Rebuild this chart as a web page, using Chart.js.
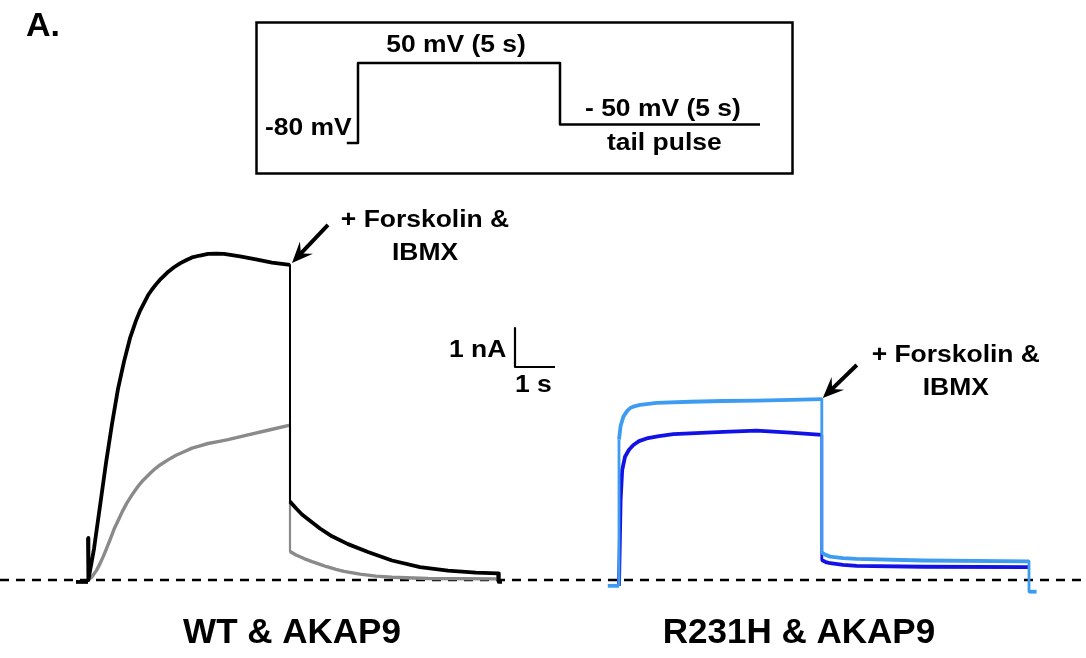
<!DOCTYPE html>
<html>
<head>
<meta charset="utf-8">
<script src="https://cdn.jsdelivr.net/npm/chart.js@4.4.1/dist/chart.umd.min.js"></script>
<style>
  html, body { margin: 0; padding: 0; background: #fff; }
  canvas { display: block; }
</style>
</head>
<body>
<canvas id="c" width="1086" height="658"></canvas>
<script>
// ---------------- DATA (time in s relative to pulse onset, current in nA) ----------------
// WT & AKAP9, + Forskolin & IBMX (black)
const timeWTForsk = [-0.3, -0.02, 0, 0, 0.01, 0.15, 0.3, 0.45, 0.6, 0.75, 0.9, 1.05, 1.2, 1.3, 1.4, 1.5, 1.6, 1.7, 1.8, 1.9, 2.0, 2.15, 2.3, 2.45, 2.6, 2.8, 3.0, 3.2, 3.4, 3.8, 4.2, 4.6, 5.05, 5.05, 5.2, 5.35, 5.55, 5.8, 6.1, 6.5, 7.0, 7.6, 8.3, 9.0, 9.7, 10.25, 10.27, 10.35];
const currWTForsk = [-0.05, -0.05, -0.05, 1.08, 0.0, 0.8, 1.9, 3.0, 4.0, 4.9, 5.6, 6.2, 6.65, 6.9, 7.1, 7.3, 7.45, 7.58, 7.7, 7.8, 7.9, 8.02, 8.12, 8.2, 8.27, 8.32, 8.36, 8.37, 8.36, 8.3, 8.22, 8.14, 8.08, 2.01, 1.84, 1.68, 1.52, 1.32, 1.12, 0.92, 0.72, 0.5, 0.33, 0.24, 0.19, 0.17, -0.05, -0.05];
// WT & AKAP9, control (grey)
const timeWTCtrl = [0, 0.1, 0.22, 0.3, 0.38, 0.46, 0.55, 0.65, 0.76, 0.86, 0.97, 1.08, 1.18, 1.28, 1.38, 1.5, 1.6, 1.7, 1.8, 2.0, 2.2, 2.4, 2.6, 2.8, 3.0, 3.25, 3.5, 4.0, 4.5, 5.05, 5.05, 5.2, 5.4, 5.6, 5.8, 5.97, 6.2, 6.4, 6.8, 7.2, 7.6, 8.5, 10.25];
const currWTCtrl = [0, 0.08, 0.26, 0.42, 0.6, 0.8, 1.03, 1.3, 1.54, 1.76, 1.97, 2.15, 2.3, 2.44, 2.56, 2.68, 2.78, 2.87, 2.95, 3.08, 3.2, 3.29, 3.38, 3.44, 3.5, 3.55, 3.6, 3.72, 3.84, 3.97, 0.73, 0.64, 0.55, 0.47, 0.4, 0.34, 0.27, 0.22, 0.15, 0.1, 0.07, 0.04, 0.03];
// R231H & AKAP9, + Forskolin & IBMX (light blue)
const timeRForsk = [-0.28, 0, 0, 0.04, 0.11, 0.2, 0.28, 0.4, 0.53, 0.94, 1.78, 2.6, 3.44, 4.3, 5.07, 5.07, 5.15, 5.28, 5.6, 5.94, 7.6, 10.25, 10.25, 10.44];
const currRForsk = [-0.15, -0.15, 3.6, 3.95, 4.19, 4.33, 4.41, 4.46, 4.49, 4.54, 4.57, 4.59, 4.6, 4.62, 4.64, 0.70, 0.65, 0.6, 0.56, 0.54, 0.5, 0.48, -0.3, -0.3];
// R231H & AKAP9, control (dark blue)
const timeRCtrl = [0, 0.04, 0.08, 0.15, 0.25, 0.36, 0.5, 0.69, 1.0, 1.36, 2.61, 3.44, 4.28, 5.07, 5.07, 5.17, 5.28, 5.6, 5.94, 7.6, 10.25];
const currRCtrl = [-0.15, 2.05, 2.82, 3.16, 3.34, 3.46, 3.56, 3.63, 3.69, 3.74, 3.80, 3.83, 3.78, 3.72, 0.51, 0.46, 0.43, 0.39, 0.36, 0.34, 0.33];
// Voltage protocol (s, mV)
const protoTime = [-0.28, 0, 0, 5.05, 5.05, 10.05];
const protoVolt = [-80, -80, 50, 50, -50, -50];
// Scale bar (1 nA, 1 s)
const scaleBarNA = 1;
const scaleBarS = 1;
// Panel onsets on the shared time axis (s)
const onsetWT = 2.2;
const onsetR231H = 15.475;
const onsetProtocol = 8.95;

// ---------------- layout (not data) ----------------
const PX_PER_S = 40, PX_PER_NA = 39, BASE_Y = 580, W = 1086, H = 658;
const xMax = W / PX_PER_S;
const yMax = BASE_Y / PX_PER_NA, yMin = -(H - BASE_Y) / PX_PER_NA;
const mvPerPx = 130 / 80; // -80 mV at y=143, 50 mV at y=63
const mvMax = 50 + 63 * mvPerPx, mvMin = -80 - (H - 143) * mvPerPx;
const sbX = 515 / PX_PER_S, sbY = (BASE_Y - 367) / PX_PER_NA;

const pts = (t, v, off) => t.map((ti, i) => ({ x: ti + off, y: v[i] }));
const segW = (thin, thick) => ({ borderWidth: ctx => (ctx.p0.parsed.x === ctx.p1.parsed.x ? thin : thick) });

const FONT = '"Liberation Sans", Arial, sans-serif';
function txt(ctx, s, x, y, size, align, sx) {
  ctx.save();
  ctx.font = 'bold ' + size + 'px ' + FONT;
  ctx.fillStyle = '#000';
  ctx.textAlign = align || 'left';
  ctx.textBaseline = 'alphabetic';
  ctx.translate(x, y);
  ctx.scale(sx || 1, 1);
  ctx.fillText(s, 0, 0);
  ctx.restore();
}
function arrow(ctx, tx, ty, dx, dy) {
  const len = Math.hypot(dx, dy), ux = dx / len, uy = dy / len, nx = -uy, ny = ux;
  ctx.save();
  ctx.strokeStyle = '#000'; ctx.fillStyle = '#000';
  ctx.lineWidth = 4; ctx.lineCap = 'butt';
  ctx.beginPath(); ctx.moveTo(tx + ux * 12, ty + uy * 12); ctx.lineTo(tx + dx, ty + dy); ctx.stroke();
  const hl = 21, hw = 9, notch = 13;
  ctx.beginPath();
  ctx.moveTo(tx, ty);
  ctx.lineTo(tx + ux * hl + nx * hw, ty + uy * hl + ny * hw);
  ctx.lineTo(tx + ux * notch, ty + uy * notch);
  ctx.lineTo(tx + ux * hl - nx * hw, ty + uy * hl - ny * hw);
  ctx.closePath(); ctx.fill();
  ctx.restore();
}

const decor = {
  id: 'decor',
  beforeDraw(c) {
    const ctx = c.ctx; ctx.save(); ctx.fillStyle = '#fff'; ctx.fillRect(0, 0, c.width, c.height); ctx.restore();
  },
  afterDatasetsDraw(c) {
    const ctx = c.ctx, xs = c.scales.x, ys = c.scales.y;
    // protocol box
    ctx.save(); ctx.lineWidth = 2.5; ctx.strokeStyle = '#000'; ctx.strokeRect(256.5, 22.5, 536, 151); ctx.restore();
    const S = 23, SX = 1.15;
    txt(ctx, 'A.', 26, 36, 34, 'left', 1);
    txt(ctx, '50 mV (5 s)', 456, 52, S, 'center', SX);
    txt(ctx, '-80 mV', 265, 135, S, 'left', SX);
    txt(ctx, '- 50 mV (5 s)', 585, 116, S, 'left', SX);
    txt(ctx, 'tail pulse', 607, 150, S, 'left', SX);
    // annotations
    const lTipX = xs.getPixelForValue(onsetWT + 5.05) + 2, lTipY = ys.getPixelForValue(8.08) - 2;
    const rTipX = xs.getPixelForValue(onsetR231H + 5.07) + 1, rTipY = ys.getPixelForValue(4.64) - 1;
    arrow(ctx, lTipX, lTipY, 36, -38);
    arrow(ctx, rTipX, rTipY, 34, -33);
    txt(ctx, '+ Forskolin &', lTipX + 133, lTipY - 36, S, 'center', SX);
    txt(ctx, 'IBMX', lTipX + 133, lTipY - 3, S, 'center', SX);
    txt(ctx, '+ Forskolin &', rTipX + 133, rTipY - 36, S, 'center', SX);
    txt(ctx, 'IBMX', rTipX + 133, rTipY - 3, S, 'center', SX);
    txt(ctx, '1 nA', 449, 357, S, 'left', SX);
    txt(ctx, '1 s', 515, 392, S, 'left', SX);
    txt(ctx, 'WT & AKAP9', 292, 643, 35, 'center', 1);
    txt(ctx, 'R231H & AKAP9', 799, 643, 35, 'center', 1);
  }
};

new Chart(document.getElementById('c'), {
  type: 'line',
  data: {
    datasets: [
      { label: 'R231H + Forskolin & IBMX', data: pts(timeRForsk, currRForsk, onsetR231H), borderColor: '#3d9cf0', borderWidth: 3.8, order: 1, segment: segW(2.8, 3.8) },
      { label: 'R231H control', data: pts(timeRCtrl, currRCtrl, onsetR231H), borderColor: '#1212e6', borderWidth: 3.8, order: 2, segment: segW(2.8, 3.8) },
      { label: 'WT + Forskolin & IBMX', data: pts(timeWTForsk, currWTForsk, onsetWT), borderColor: '#000', borderWidth: 3.8, order: 3, segment: segW(2, 3.8) },
      { label: 'WT control', data: pts(timeWTCtrl, currWTCtrl, onsetWT), borderColor: '#8a8a8a', borderWidth: 3.4, order: 4, segment: segW(2.2, 3.4) },
      { label: 'protocol', data: pts(protoTime, protoVolt, onsetProtocol), yAxisID: 'mv', borderColor: '#000', borderWidth: 2.5, order: 5 },
      { label: 'scale bar', data: [{ x: sbX, y: sbY + scaleBarNA }, { x: sbX, y: sbY }, { x: sbX + scaleBarS, y: sbY }], borderColor: '#000', borderWidth: 2.2, order: 5 },
      { label: 'baseline', data: [{ x: 0, y: 0 }, { x: xMax, y: 0 }], borderColor: '#000', borderWidth: 2.5, borderDash: [9, 7], order: 10 }
    ]
  },
  options: {
    responsive: false,
    animation: false,
    devicePixelRatio: 1,
    layout: { padding: 0 },
    elements: { point: { radius: 0, hoverRadius: 0 }, line: { tension: 0, borderJoinStyle: 'round', borderCapStyle: 'butt', fill: false } },
    scales: {
      x: { type: 'linear', min: 0, max: xMax, display: false },
      y: { type: 'linear', min: yMin, max: yMax, display: false },
      mv: { type: 'linear', position: 'right', min: mvMin, max: mvMax, display: false }
    },
    plugins: { legend: { display: false }, tooltip: { enabled: false } },
    events: []
  },
  plugins: [decor]
});
</script>
</body>
</html>
